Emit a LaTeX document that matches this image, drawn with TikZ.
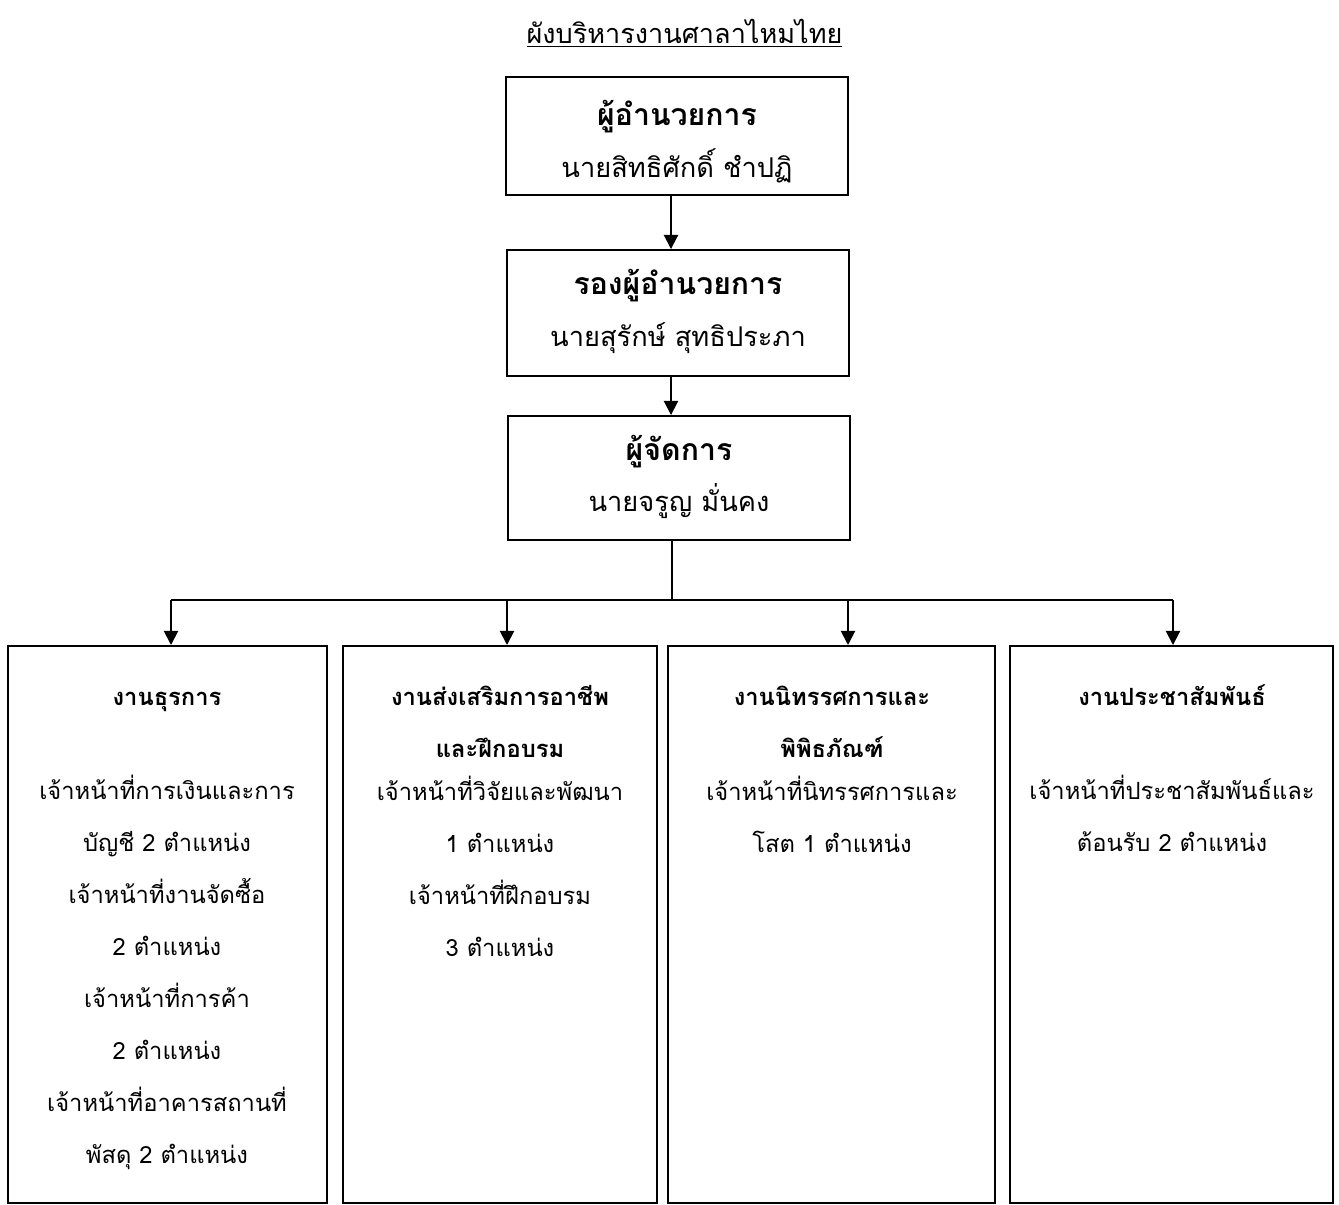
\documentclass[tikz,border=0pt]{standalone}
\usepackage{fontspec}
\newfontfamily\thaifont[Script=Thai]{Loma}
\usetikzlibrary{arrows.meta, positioning}

\newcommand{\namefont}{\fontsize{15.5}{29.5}\selectfont}
\newcommand{\headstrut}[1]{\rule{0pt}{#1}}
\newcommand{\tailstrut}{\rule[-10pt]{0pt}{10pt}}

\tikzset{
    chiefbox/.style={draw, line width=1.1pt, minimum width=342*0.02cm,
        minimum height=118*0.02cm, align=center, inner sep=0pt,
        font=\thaifont\fontsize{17.2}{29.5}\selectfont},
    unitbox/.style={draw, line width=1.1pt, anchor=north,
        minimum height=557*0.02cm, inner sep=0pt},
    unittext/.style={anchor=north, align=center, inner sep=0pt,
        font=\thaifont\fontsize{13.5}{29.6}\selectfont},
    down/.style={line width=1.1pt, -{Triangle[width=8pt,length=8pt]}},
    trunk/.style={line width=1.1pt}
}

\begin{document}
\begin{tikzpicture}[x=0.02cm, y=-0.02cm]
    \useasboundingbox (0,0) rectangle (1339,1204);

    \node[font=\thaifont\fontsize{15.4}{20}\selectfont] (title) at (684.5,33)
        {\underline{ผังบริหารงานศาลาไหมไทย}};

    \node[chiefbox] (dir) at (677,136)
        {\headstrut{28pt}\textbf{ผู้อำนวยการ}\\{\namefont นายสิทธิศักดิ์ ชำปฏิ\tailstrut}};
    \node[chiefbox, minimum height=126*0.02cm] (vdir) at (678,313)
        {\headstrut{19pt}\textbf{รองผู้อำนวยการ}\\{\namefont นายสุรักษ์ สุทธิประภา\tailstrut}};
    \node[chiefbox, minimum height=124*0.02cm] (mgr) at (679,478)
        {\headstrut{19pt}\textbf{ผู้จัดการ}\\{\namefont นายจรูญ มั่นคง\tailstrut}};

    \coordinate (axis) at (671,0);
    \draw[down] (dir.south -| axis) -- (vdir.north -| axis);
    \draw[down] (vdir.south -| axis) -- (mgr.north -| axis);

    % work units
    \node[unitbox, minimum width=319*0.02cm] (admin) at (167.5,645) {};
    \node[unitbox, minimum width=314*0.02cm] (career) at (500,645) {};
    \node[unitbox, minimum width=327*0.02cm] (expo) at (831.5,645) {};
    \node[unitbox, minimum width=323*0.02cm] (pr) at (1171.5,645) {};

    \coordinate (split) at (672,600);
    \coordinate (ta) at (171,600);
    \coordinate (tb) at (507,600);
    \coordinate (tc) at (848,600);
    \coordinate (td) at (1173,600);
    \draw[trunk] (mgr.south -| split) -- (split);
    \draw[trunk] (ta) -- (td);
    \draw[down] (ta) -- (ta |- admin.north);
    \draw[down] (tb) -- (tb |- career.north);
    \draw[down] (tc) -- (tc |- expo.north);
    \draw[down] (td) -- (td |- pr.north);

    \node[unittext] (admintext) at (167,666)
        {\headstrut{22pt}\textbf{งานธุรการ}\\[24.4pt]
        เจ้าหน้าที่การเงินและการ\\บัญชี 2 ตำแหน่ง\\
        เจ้าหน้าที่งานจัดซื้อ\\2 ตำแหน่ง\\
        เจ้าหน้าที่การค้า\\2 ตำแหน่ง\\
        เจ้าหน้าที่อาคารสถานที่\\พัสดุ 2 ตำแหน่ง};
    \node[unittext] (careertext) at (500,666)
        {\headstrut{22pt}\textbf{งานส่งเสริมการอาชีพ}\\\textbf{และฝึกอบรม}\\[-5.1pt]
        เจ้าหน้าที่วิจัยและพัฒนา\\1 ตำแหน่ง\\
        เจ้าหน้าที่ฝึกอบรม\\3 ตำแหน่ง};
    \node[unittext] (expotext) at (832,666)
        {\headstrut{22pt}\textbf{งานนิทรรศการและ}\\\textbf{พิพิธภัณฑ์}\\[-5.1pt]
        เจ้าหน้าที่นิทรรศการและ\\โสต 1 ตำแหน่ง};
    \node[unittext] (prtext) at (1172,666)
        {\headstrut{22pt}\textbf{งานประชาสัมพันธ์}\\[24.4pt]
        เจ้าหน้าที่ประชาสัมพันธ์และ\\ต้อนรับ 2 ตำแหน่ง};
\end{tikzpicture}
\end{document}
